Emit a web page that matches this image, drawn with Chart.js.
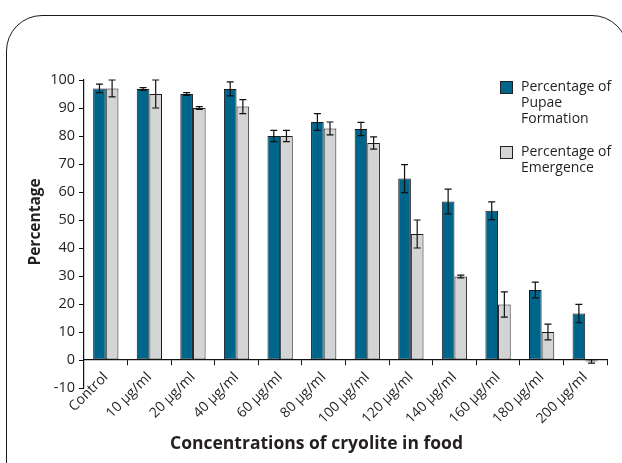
<!DOCTYPE html>
<html>
<head>
<meta charset="utf-8">
<script src="https://cdn.jsdelivr.net/npm/chart.js@4/dist/chart.umd.min.js"></script>
<style>
  body { margin: 0; background: #fff; }
  #wrap { position: relative; width: 622px; height: 463px; overflow: hidden; }
  #frame { position: absolute; left: 6px; top: 15px; width: 622px; height: 520px;
           border: 1.5px solid #1a1a1a; border-radius: 36px; box-sizing: border-box; }
  #legend { position: absolute; left: 500px; top: 78px; font-family: "Open Sans", sans-serif;
            font-size: 14px; line-height: 16px; color: #231f20; }
  .item { position: relative; padding-left: 21px; margin-bottom: 17px; }
  .sw { position: absolute; left: 0; top: 3px; width: 11px; height: 11px; border: 1px solid #222; }
</style>
</head>
<body>
<div id="wrap">
  <div id="frame"></div>
  <canvas id="myChart" width="622" height="463"></canvas>
  <div id="legend">
    <div class="item"><span class="sw" style="background:#00658b"></span>Percentage of<br>Pupae<br>Formation</div>
    <div class="item"><span class="sw" style="background:#d3d4d6"></span>Percentage of<br>Emergence</div>
  </div>
</div>
<script>
var labels = ['Control', '10 µg/ml', '20 µg/ml', '40 µg/ml', '60 µg/ml', '80 µg/ml',
              '100 µg/ml', '120 µg/ml', '140 µg/ml', '160 µg/ml', '180 µg/ml', '200 µg/ml'];
var pupae = [97, 96.8, 95, 96.8, 80, 85, 82.5, 64.8, 56.6, 53.3, 25, 16.6];
var pupaeErr = [1.5, 0.5, 0.5, 2.5, 2, 3, 2.4, 5, 4.4, 3.2, 2.8, 3.3];
var emergence = [97, 95, 90, 90.5, 80, 82.7, 77.5, 45, 29.8, 19.8, 10, -0.5];
var emergenceErr = [3, 5, 0.5, 2.5, 2, 2.3, 2.2, 5, 0.5, 4.5, 2.8, 0.6];
var yTicks = [-10, 0, 10, 20, 30, 40, 50, 60, 70, 80, 90, 100];

var errs = [pupaeErr, emergenceErr];

// draws the error bars on top of the bars
var errorBars = {
  id: 'errorBars',
  afterDatasetsDraw: function(chart) {
    var ctx = chart.ctx;
    var y = chart.scales.y;
    ctx.save();
    ctx.strokeStyle = '#111';
    ctx.lineWidth = 1.2;
    chart.data.datasets.forEach(function(ds, i) {
      var meta = chart.getDatasetMeta(i);
      meta.data.forEach(function(bar, j) {
        var v = ds.data[j], e = errs[i][j];
        var top = y.getPixelForValue(v + e), bot = y.getPixelForValue(v - e);
        ctx.beginPath();
        ctx.moveTo(bar.x, top); ctx.lineTo(bar.x, bot);
        ctx.moveTo(bar.x - 3.5, top); ctx.lineTo(bar.x + 3.5, top);
        ctx.moveTo(bar.x - 3.5, bot); ctx.lineTo(bar.x + 3.5, bot);
        ctx.stroke();
      });
    });
    ctx.restore();
  }
};

var font = "'Open Sans', sans-serif";
var ctx = document.getElementById('myChart').getContext('2d');
var myChart = new Chart(ctx, {
  type: 'bar',
  data: {
    labels: labels,
    datasets: [
      { label: 'Percentage of Pupae Formation', data: pupae, backgroundColor: '#00658b',
        borderColor: '#1a1a1a', borderWidth: 1, borderSkipped: false },
      { label: 'Percentage of Emergence', data: emergence, backgroundColor: '#d3d4d6',
        borderColor: '#1a1a1a', borderWidth: 1, borderSkipped: false }
    ]
  },
  options: {
    responsive: false,
    animation: false,
    layout: { padding: { left: 26, right: 15, top: 80, bottom: 0 } },
    datasets: { bar: { categoryPercentage: 0.58, barPercentage: 1 } },
    scales: {
      x: {
        position: { y: 0 },
        grid: { display: true, drawOnChartArea: false, tickLength: 5, tickColor: '#111', offset: true },
        border: { color: '#111', width: 1.2 },
        ticks: { autoSkip: false, minRotation: 45, maxRotation: 45, color: '#231f20',
                 font: { family: font, size: 14 }, padding: 4 },
        afterFit: function(s) { s.height = 50; }
      },
      y: {
        min: -10, max: 100,
        afterBuildTicks: function(s) { s.ticks = yTicks.map(function(v) { return { value: v }; }); },
        grid: { display: true, drawOnChartArea: false, tickLength: 5, tickColor: '#111' },
        border: { color: '#111', width: 1.2 },
        ticks: { color: '#231f20', font: { family: font, size: 14.5 }, padding: 4 },
        title: { display: true, text: '      Percentage', color: '#231f20',
                 font: { family: font, size: 15.5, weight: 'bold' }, padding: 0 },
        afterFit: function(s) { s.width = 58; }
      }
    },
    plugins: {
      legend: { display: false },
      tooltip: { enabled: false },
      title: { display: true, position: 'bottom', text: 'Concentrations of cryolite in food',
               color: '#231f20', font: { family: font, size: 17.5, weight: 'bold' },
               padding: { top: 46, bottom: 8 } }
    }
  },
  plugins: [errorBars]
});
</script>
</body>
</html>
